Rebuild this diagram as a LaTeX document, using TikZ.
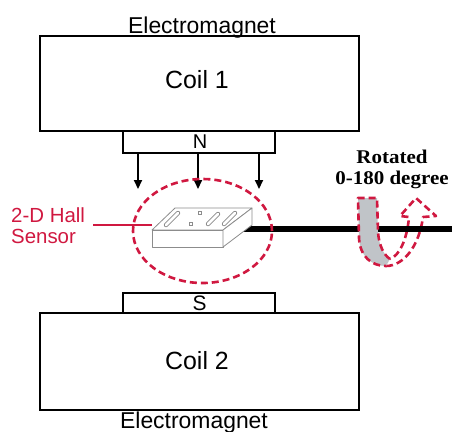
\documentclass[tikz,border=0pt]{standalone}
\usepackage{fontspec}
\setmainfont{Liberation Sans}
\newfontfamily\rotfont[FakeStretch=1.08]{Liberation Serif}
\usetikzlibrary{arrows.meta,shapes.geometric}
\definecolor{hallred}{RGB}{208,24,64}
\definecolor{bandgray}{RGB}{192,196,200}
\definecolor{blockgray}{RGB}{140,140,140}

\begin{document}
\begin{tikzpicture}[x=1bp,y=-1bp,
  coil/.style={draw=black,line width=2.6bp,fill=white,inner sep=0pt},
  pole/.style={draw=black,line width=2.4bp,fill=white,inner sep=0pt},
  lbl/.style={inner sep=0pt,anchor=base},
  field/.style={line width=2bp,-{Triangle[length=9bp,width=8bp]}},
  dashred/.style={draw=hallred,line width=2.6bp,dash pattern=on 7bp off 4bp},
  blockline/.style={draw=blockgray,line width=0.8bp,line join=round,fill=white},
  slotout/.style={draw=blockgray,line width=4.4bp,line cap=round},
  slotin/.style={draw=white,line width=2.8bp,line cap=round}
]
\useasboundingbox (0,0) rectangle (452,431);

% ---- upper electromagnet ----
\node[pole, minimum width=152bp, minimum height=22bp] (npole) at (199,142) {};
\node[coil, minimum width=319bp, minimum height=95bp] (coil1) at (199.5,83.5) {};
\node[lbl, font=\fontsize{23}{23}\selectfont] (em1) at (202,33) {Electromagnet};
\node[lbl, font=\fontsize{25}{25}\selectfont] (c1) at (197,88) {Coil 1};
\node[lbl, font=\fontsize{20}{20}\selectfont] (ntext) at (200,148) {N};

% ---- lower electromagnet ----
\node[pole, minimum width=152bp, minimum height=20bp] (spole) at (199,303) {};
\node[coil, minimum width=319bp, minimum height=97bp] (coil2) at (199.5,361.5) {};
\node[lbl, font=\fontsize{21}{21}\selectfont] (stext) at (199.5,310) {S};
\node[lbl, font=\fontsize{25}{25}\selectfont] (c2) at (197,369) {Coil 2};
\node[lbl, font=\fontsize{23}{23}\selectfont] (em2) at (194,428) {Electromagnet};

% ---- field lines from the N pole ----
\coordinate (f1) at (138,189);
\coordinate (f2) at (198,189);
\coordinate (f3) at (259,189);
\foreach \f in {f1,f2,f3}
  \draw[field] (\f |- npole.south) -- (\f);

% ---- rotation arrow: right arm sits behind the shaft ----
\coordinate (ub) at (386,266);
\coordinate (uc) at (390,259);
\draw[dashred, line join=round]
  (ub) .. controls (403,266) and (419,247) .. (423,217)
  -- (436,216) -- (416,198) -- (400,216) -- (409,217)
  .. controls (407,240) and (399,256) .. (uc);

% ---- shaft ----
\coordinate (rodstart) at (240,229);
\coordinate (rodend) at (452,229);
\draw[line width=6bp] (rodstart) -- (rodend);

% ---- Hall sensor block ----
\draw[blockline] (175,208) -- (252,208) -- (223,230) -- (152,230) -- cycle;
\draw[blockline] (152,230) -- (223,230) -- (223,247) -- (152,247) -- cycle;
\draw[blockline] (223,230) -- (252,208) -- (252,225) -- (223,247) -- cycle;
\foreach \a/\b in {{(166,225)}/{(178,213)}, {(208,224)}/{(218,214)}, {(224,224)}/{(235,213)}}{
  \draw[slotout] \a -- \b;
  \draw[slotin] \a -- \b;
}
\draw[draw=blockgray, line width=0.8bp] (198.5,211.5) rectangle (201.5,214.5);
\draw[draw=blockgray, line width=0.8bp] (189.5,222) rectangle (192.5,225);

% ---- rotation arrow: left arm in front of the shaft ----
\fill[bandgray] (377,198) -- (358,198) -- (359,238)
  .. controls (360,257) and (372,266) .. (ub) -- (uc)
  .. controls (384,255) and (379,246) .. (378,232) -- cycle;
\draw[dashred, line join=round]
  (uc) .. controls (384,255) and (379,246) .. (378,232) -- (377,198)
  -- (358,198) -- (359,238) .. controls (360,257) and (372,266) .. (ub);

% ---- sensing region ----
\node[dashred, ellipse, minimum width=139bp, minimum height=104bp, inner sep=0pt] (zone) at (202.5,231) {};

% ---- labels ----
\node[inner sep=0pt, anchor=base west, text=hallred, font=\fontsize{20.5}{20.5}\selectfont] (hall1) at (11,222) {2-D Hall};
\node[inner sep=0pt, anchor=base west, text=hallred, font=\fontsize{20.5}{20.5}\selectfont] (hall2) at (11,243) {Sensor};
\coordinate (hallend) at (93,225);
\coordinate (blockleft) at (152,225);
\draw[hallred, line width=1.4bp] (hallend) -- (blockleft);

\node[lbl, font=\rotfont\bfseries\fontsize{19.5}{19.5}\selectfont] (rot1) at (392,163) {Rotated};
\node[lbl, font=\rotfont\bfseries\fontsize{19.5}{19.5}\selectfont] (rot2) at (392,184) {0-180 degree};
\end{tikzpicture}
\end{document}
